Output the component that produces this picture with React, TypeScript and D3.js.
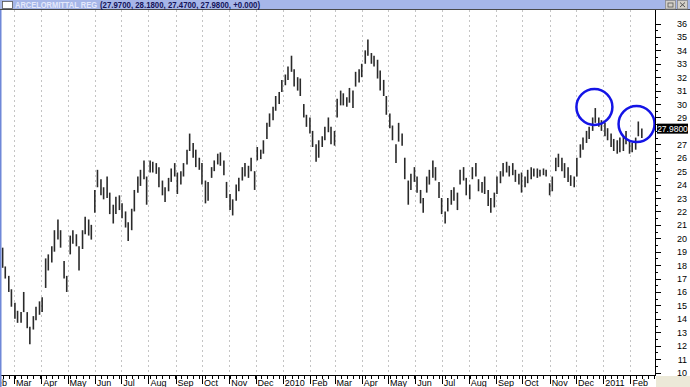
import React from 'react';
import * as d3 from 'd3';

const W = 690;
const H = 387;

const symbol = 'ARCELORMITTAL REG';
const quote = { open: 27.97, high: 28.18, low: 27.47, close: 27.98, change: 0 };

// twice-weekly bars (Mon / Thu) starting Mon 16 Feb 2009
const startDate = new Date(2009, 1, 16);

const highs = [
  19.3, 17.9, 17.2, 16.2, 15.2, 14.6, 14.5, 16.0, 14.5, 13.4,
  14.2, 14.9, 15.3, 15.6, 18.5, 18.8, 19.4, 20.6, 21.4, 20.6,
  18.3, 17.2, 20.2, 20.6, 20.3, 19.4, 20.6, 21.6, 21.4, 21.0,
  23.6, 25.1, 24.4, 23.8, 24.6, 23.4, 22.5, 23.1, 23.2, 22.6,
  22.0, 21.2, 22.2, 23.6, 24.6, 25.1, 25.8, 24.6, 25.8, 25.7, 25.6,
  25.3, 24.3, 23.8, 24.5, 25.2, 25.6, 24.9, 25.0, 25.6, 26.6,
  27.8, 27.1, 26.6, 26.0, 25.6, 24.3, 24.2, 25.3, 25.8, 26.3,
  26.4, 25.8, 24.2, 23.3, 22.9, 24.0, 24.5, 25.3, 25.6, 25.4,
  26.0, 25.0, 26.8, 26.6, 27.3, 28.6, 29.3, 29.8, 30.6, 30.9,
  31.8, 32.2, 32.8, 33.6, 32.6, 32.0, 31.9, 30.0, 29.2, 29.0,
  28.0, 27.0, 27.3, 27.6, 28.3, 29.0, 28.3, 28.0, 30.4, 31.0,
  30.8, 30.5, 31.2, 31.0, 32.4, 32.6, 33.0, 34.0, 34.8, 33.8,
  33.6, 33.3, 32.5, 31.8, 30.6, 29.3, 28.4, 27.0, 28.6, 27.8,
  26.0, 24.3, 24.8, 25.3, 24.6, 23.6, 23.0, 24.6, 25.1, 25.8,
  25.3, 24.2, 23.0, 22.0, 23.0, 23.6, 23.8, 23.4, 25.1, 25.3,
  24.5, 24.0, 25.3, 25.6, 24.4, 24.2, 24.6, 23.6, 23.0, 23.4,
  24.6, 25.0, 25.6, 25.7, 25.4, 25.6, 25.1, 24.8, 24.9, 24.6,
  25.1, 25.3, 25.2, 25.2, 25.1, 25.2, 25.1, 24.1, 24.6, 26.0, 26.3,
  26.0, 25.6, 25.3, 24.7, 24.6, 26.0, 27.0, 27.5, 28.0, 28.3,
  29.0, 29.7, 29.0, 28.8, 28.6, 28.2, 27.8, 27.4, 27.3, 27.5,
  27.6, 28.0, 27.3, 27.1, 27.5, 28.7, 28.18,
];

const lows = [
  17.8, 17.0, 16.0, 14.9, 14.0, 13.7, 13.7, 14.5, 13.3, 12.1,
  13.2, 13.9, 14.3, 14.5, 16.3, 17.6, 18.2, 19.0, 19.9, 19.3,
  17.0, 16.0, 18.8, 19.6, 19.4, 17.6, 19.2, 20.3, 20.2, 19.9,
  21.9, 23.8, 23.2, 22.9, 23.0, 21.8, 21.1, 21.8, 22.1, 21.5,
  20.8, 19.8, 20.6, 22.0, 23.4, 23.9, 24.4, 22.5, 24.9, 24.9, 24.8,
  23.8, 23.2, 22.7, 23.5, 24.2, 24.6, 23.3, 24.0, 24.6, 25.5,
  26.5, 26.0, 25.3, 25.1, 24.0, 22.6, 22.8, 24.5, 25.0, 25.5,
  25.4, 24.7, 23.0, 22.1, 21.7, 22.8, 23.5, 24.3, 24.6, 24.5,
  25.0, 23.6, 25.8, 25.9, 26.3, 27.4, 28.3, 28.8, 29.5, 30.0,
  30.9, 31.4, 31.8, 32.4, 31.3, 31.0, 30.6, 29.0, 28.3, 27.8,
  26.8, 25.7, 26.0, 26.8, 27.3, 27.9, 27.0, 26.9, 29.0, 29.9,
  29.9, 29.8, 30.1, 29.7, 31.3, 31.6, 32.0, 33.0, 33.6, 33.0,
  32.8, 31.9, 31.0, 30.6, 29.2, 28.2, 27.3, 25.6, 27.2, 26.9,
  24.4, 22.5, 23.6, 24.2, 23.4, 22.6, 21.9, 23.4, 24.0, 24.5,
  24.3, 23.0, 21.8, 21.1, 22.0, 22.5, 22.8, 22.1, 24.0, 24.3,
  23.2, 22.9, 24.4, 24.6, 23.5, 23.4, 23.3, 22.4, 21.9, 22.3,
  23.3, 24.1, 24.6, 24.9, 24.6, 24.7, 24.2, 24.0, 23.4, 23.8,
  24.1, 24.4, 24.6, 24.5, 24.6, 24.7, 24.6, 23.2, 23.5, 25.0, 25.3,
  25.0, 24.5, 24.2, 23.9, 23.8, 24.6, 26.0, 26.6, 27.1, 27.4,
  28.0, 28.6, 28.3, 28.0, 27.6, 27.3, 26.8, 26.5, 26.3, 26.4,
  26.5, 27.0, 26.3, 26.4, 26.6, 27.6, 27.47,
];

// blue circle annotations (date, price)
const marks = [
  { date: new Date(2010, 11, 22), price: 29.78 },
  { date: new Date(2011, 1, 8), price: 28.51 },
];

const yMin = 10;
const yMax = 36;

const plotLeft = 0;
const plotRight = 655;
const plotTop = 10;
const plotBottom = 375;

const font = 'Liberation Sans, Arial, sans-serif';

export default function App() {
  const x = d3
    .scaleTime()
    .domain([new Date(2009, 1, 13), new Date(2011, 2, 1)])
    .range([plotLeft, plotRight]);
  const y = d3.scaleLinear().domain([yMin, yMax]).range([372.5, 23.5]);

  const bars = highs.map((h, i) => ({
    date: d3.timeDay.offset(startDate, 7 * Math.floor(i / 2) + 3 * (i % 2)),
    high: h,
    low: lows[i],
  }));

  const months = d3.timeMonth.range(new Date(2009, 1, 1), new Date(2011, 2, 1));
  const weeks = d3.timeMonday.range(new Date(2009, 0, 26), new Date(2011, 2, 1));
  const fmtMonth = d3.timeFormat('%b');
  const fmt4 = d3.format('.4f');

  const lastY = y(quote.close);
  const boxCy = lastY - 2.5;
  const majorY = d3.range(yMin, yMax + 1).filter((v) => Math.abs(y(v) - boxCy) > 9);
  const minorY = d3.range(yMin + 0.5, yMax + 0.5, 1);

  return (
    <svg width={W} height={H} style={{ position: 'absolute', left: 0, top: 0, background: '#fff' }}>
      <defs>
        <clipPath id="plot">
          <rect x={plotLeft} y={plotTop} width={plotRight - plotLeft} height={plotBottom - plotTop} />
        </clipPath>
        <clipPath id="xlab">
          <rect x={1.5} y={plotBottom} width={plotRight} height={H - plotBottom} />
        </clipPath>
      </defs>
      <rect x={0} y={0} width={W} height={H} fill="#ffffff" />
      {/* month grid */}
      {months.map((m, i) => (
        <line
          key={'g' + i}
          x1={Math.round(x(m)) + 0.5}
          x2={Math.round(x(m)) + 0.5}
          y1={plotTop}
          y2={plotBottom}
          stroke="#c4c4c4"
          strokeDasharray="2,3"
          clipPath="url(#plot)"
        />
      ))}
      {/* bars */}
      <g clipPath="url(#plot)">
        {bars.map((b, i) => (
          <line
            key={'b' + i}
            x1={x(b.date)}
            x2={x(b.date)}
            y1={y(b.high)}
            y2={y(b.low)}
            stroke="#2a2a2a"
            strokeWidth={1.6}
          />
        ))}
      </g>
      {/* annotations */}
      {marks.map((m, i) => (
        <circle key={'c' + i} cx={x(m.date)} cy={y(m.price)} r={18} fill="none" stroke="#1414e6" strokeWidth={2.5} />
      ))}
      {/* right axis */}
      <line x1={plotRight + 0.5} x2={plotRight + 0.5} y1={plotTop} y2={plotBottom} stroke="#000" />
      {d3.range(yMin, yMax + 1).map((v) => (
        <line key={'yt' + v} x1={plotRight} x2={plotRight + 6} y1={Math.round(y(v)) + 0.5} y2={Math.round(y(v)) + 0.5} stroke="#000" />
      ))}
      {majorY.map((v) => (
        <text key={'y' + v} x={687} y={y(v) + 3.5} textAnchor="end" fontFamily={font} fontSize={9} fill="#000">
          {v}
        </text>
      ))}
      {minorY.map((v) => (
        <line key={'ym' + v} x1={plotRight} x2={plotRight + 3} y1={Math.round(y(v)) + 0.5} y2={Math.round(y(v)) + 0.5} stroke="#000" />
      ))}
      {/* last price label */}
      <rect x={657} y={boxCy - 5} width={31} height={10} fill="#000" />
      <text x={672.5} y={boxCy + 3} textAnchor="middle" fontFamily={font} fontSize={8.5} fill="#fff">
        {fmt4(quote.close)}
      </text>
      {/* bottom axis */}
      <line x1={0} x2={plotRight + 1} y1={plotBottom + 0.5} y2={plotBottom + 0.5} stroke="#000" />
      {weeks.map((w, i) => (
        <line key={'w' + i} x1={Math.round(x(w)) + 0.5} x2={Math.round(x(w)) + 0.5} y1={plotBottom} y2={plotBottom + 4} stroke="#000" />
      ))}
      <g clipPath="url(#xlab)">
        {months.map((m, i) => (
          <g key={'m' + i}>
            <line x1={Math.round(x(m)) + 0.5} x2={Math.round(x(m)) + 0.5} y1={plotBottom} y2={plotBottom + 9} stroke="#000" />
            <text x={x(m) + 2} y={385.5} fontFamily={font} fontSize={9} fill="#000">
              {m.getMonth() === 0 ? String(m.getFullYear()) : fmtMonth(m)}
            </text>
          </g>
        ))}
      </g>
      <rect x={plotRight + 1} y={plotBottom + 1} width={W - plotRight - 1} height={H - plotBottom - 1} fill="#ece9d8" />
      {/* left window border */}
      <rect x={0} y={plotTop} width={1.5} height={H - plotTop} fill="#6f88d8" />
      {/* title bar */}
      <rect x={0} y={0} width={W} height={9.5} fill="#a6b6e8" />
      <line x1={0} x2={W} y1={9.5} y2={9.5} stroke="#4a4a4a" />
      <rect x={2.5} y={1.5} width={10} height={7} fill="#fff" stroke="#555" strokeWidth={0.8} />
      <text x={15} y={8} fontFamily={font} fontSize={8.5} fontWeight="bold" fill="#e4e8fb" textLength={82} lengthAdjust="spacingAndGlyphs">
        {symbol}
      </text>
      <text x={100} y={8} fontFamily={font} fontSize={8.5} fontWeight="bold" fill="#14145a" textLength={160} lengthAdjust="spacingAndGlyphs">
        {`(${fmt4(quote.open)}, ${fmt4(quote.high)}, ${fmt4(quote.low)}, ${fmt4(quote.close)}, +${d3.format('.3f')(quote.change)})`}
      </text>
      {/* window buttons */}
      <rect x={665.5} y={0.5} width={10} height={8.5} fill="#d4d0c8" stroke="#8a8a8a" strokeWidth={0.8} />
      <rect x={668} y={3} width={5} height={4} fill="none" stroke="#555" strokeWidth={0.8} />
      <rect x={677.5} y={0.5} width={10} height={8.5} fill="#d4d0c8" stroke="#8a8a8a" strokeWidth={0.8} />
      <path d="M680,2.5 L685,7 M685,2.5 L680,7" stroke="#555" strokeWidth={1} />
    </svg>
  );
}
